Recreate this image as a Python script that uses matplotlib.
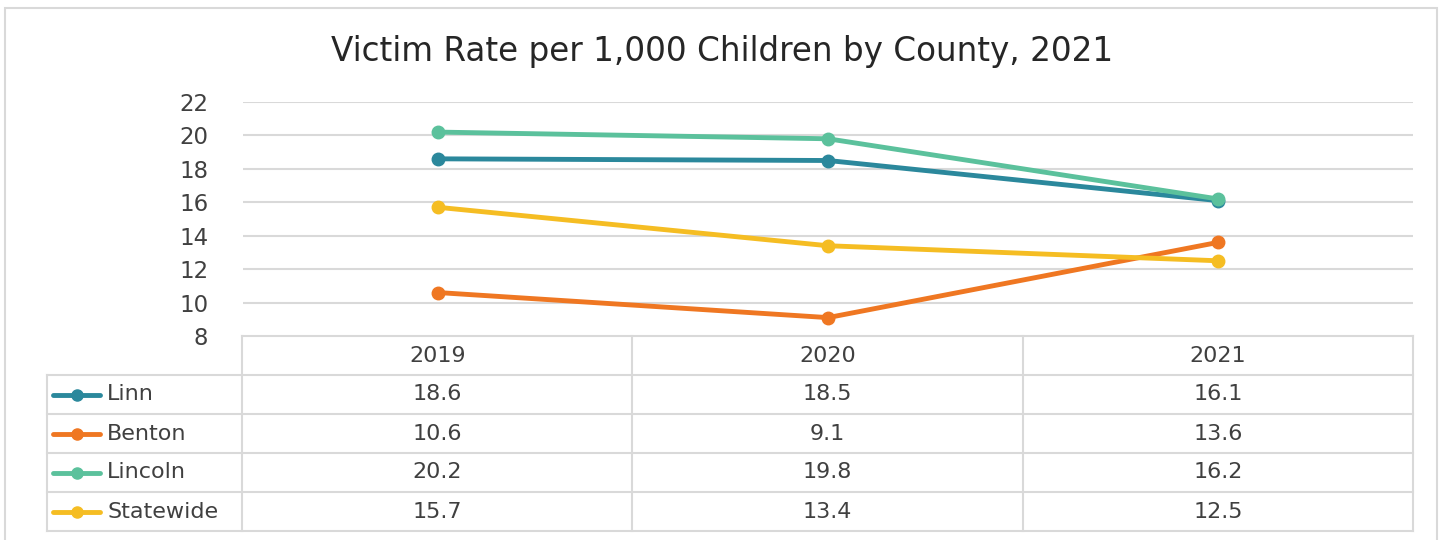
import numpy as np
import matplotlib
matplotlib.use("Agg")
import matplotlib.pyplot as plt
from matplotlib.patches import Rectangle

# Data
years = ["2019", "2020", "2021"]
series_names = ["Linn", "Benton", "Lincoln", "Statewide"]
linn = [18.6, 18.5, 16.1]
benton = [10.6, 9.1, 13.6]
lincoln = [20.2, 19.8, 16.2]
statewide = [15.7, 13.4, 12.5]
colors = ["#2B889C", "#EF7722", "#5BC19C", "#F5BD23"]
yticks = [8, 10, 12, 14, 16, 18, 20, 22]

all_series = [linn, benton, lincoln, statewide]

plt.rcParams["font.family"] = ["DejaVu Sans"]
W, H = 1445, 540
fig = plt.figure(figsize=(W / 100, H / 100), dpi=100)
grid_color = "#D9D9D9"
text_color = "#404040"


def px(x0, y0, x1, y1):
    # pixel box -> figure fraction [left, bottom, width, height]
    return [x0 / W, 1 - y1 / H, (x1 - x0) / W, (y1 - y0) / H]


# Outer chart border
fig.patches.append(Rectangle((5 / W, -0.01), 1432 / W, 1 - 8 / H + 0.01,
                             transform=fig.transFigure, fill=False,
                             edgecolor=grid_color, linewidth=1.5))

fig.text(722 / W, 1 - 51 / H, "Victim Rate per 1,000 Children by County, 2021",
         ha="center", va="center", fontsize=23.5, color="#262626")

# Line plot
ax = fig.add_axes(px(243, 102, 1413, 336))
xpos = np.arange(len(years)) + 0.5
for vals, c in zip(all_series, colors):
    ax.plot(xpos, vals, color=c, linewidth=3.5, marker="o", markersize=9,
            solid_capstyle="round")
ax.set_xlim(0, 3)
ax.set_ylim(8, 22)
ax.set_yticks(yticks)
ax.tick_params(axis="y", length=0, pad=25, labelsize=16.5, labelcolor=text_color)
ax.set_xticks([])
for y in yticks[1:]:
    ax.axhline(y, color=grid_color, linewidth=1.5, zorder=0)
for s in ax.spines.values():
    s.set_visible(False)

# Data table
tax = fig.add_axes(px(47, 336, 1413, 531))
tax.set_xlim(-0.5, 3)
tax.set_ylim(5, 0)
tax.axis("off")
lw = 1.5
# header row
tax.plot([0, 3], [0, 0], color=grid_color, linewidth=lw, clip_on=False)
for i in range(4):
    tax.plot([i, i], [0, 5], color=grid_color, linewidth=lw, clip_on=False)
tax.plot([-0.5, -0.5], [1, 5], color=grid_color, linewidth=lw, clip_on=False)
for r in range(1, 6):
    tax.plot([-0.5, 3], [r, r], color=grid_color, linewidth=lw, clip_on=False)
for j, yr in enumerate(years):
    tax.text(j + 0.5, 0.5, yr, ha="center", va="center", fontsize=16, color=text_color)
unit = 1 / 390
for r, (name, vals, c) in enumerate(zip(series_names, all_series, colors), start=1):
    x0, x1 = -0.5 + 6 * unit, -0.5 + 53 * unit
    tax.plot([x0, x1], [r + 0.5, r + 0.5], color=c, linewidth=3.5, solid_capstyle="round")
    tax.plot([(x0 + x1) / 2], [r + 0.5], "o", color=c, markersize=8)
    tax.text(-0.5 + 60 * unit, r + 0.5, name, ha="left", va="center",
             fontsize=16, color=text_color)
    for j, v in enumerate(vals):
        tax.text(j + 0.5, r + 0.5, f"{v:.1f}", ha="center", va="center",
                 fontsize=16, color=text_color)

fig.savefig("out.png", dpi=100)
